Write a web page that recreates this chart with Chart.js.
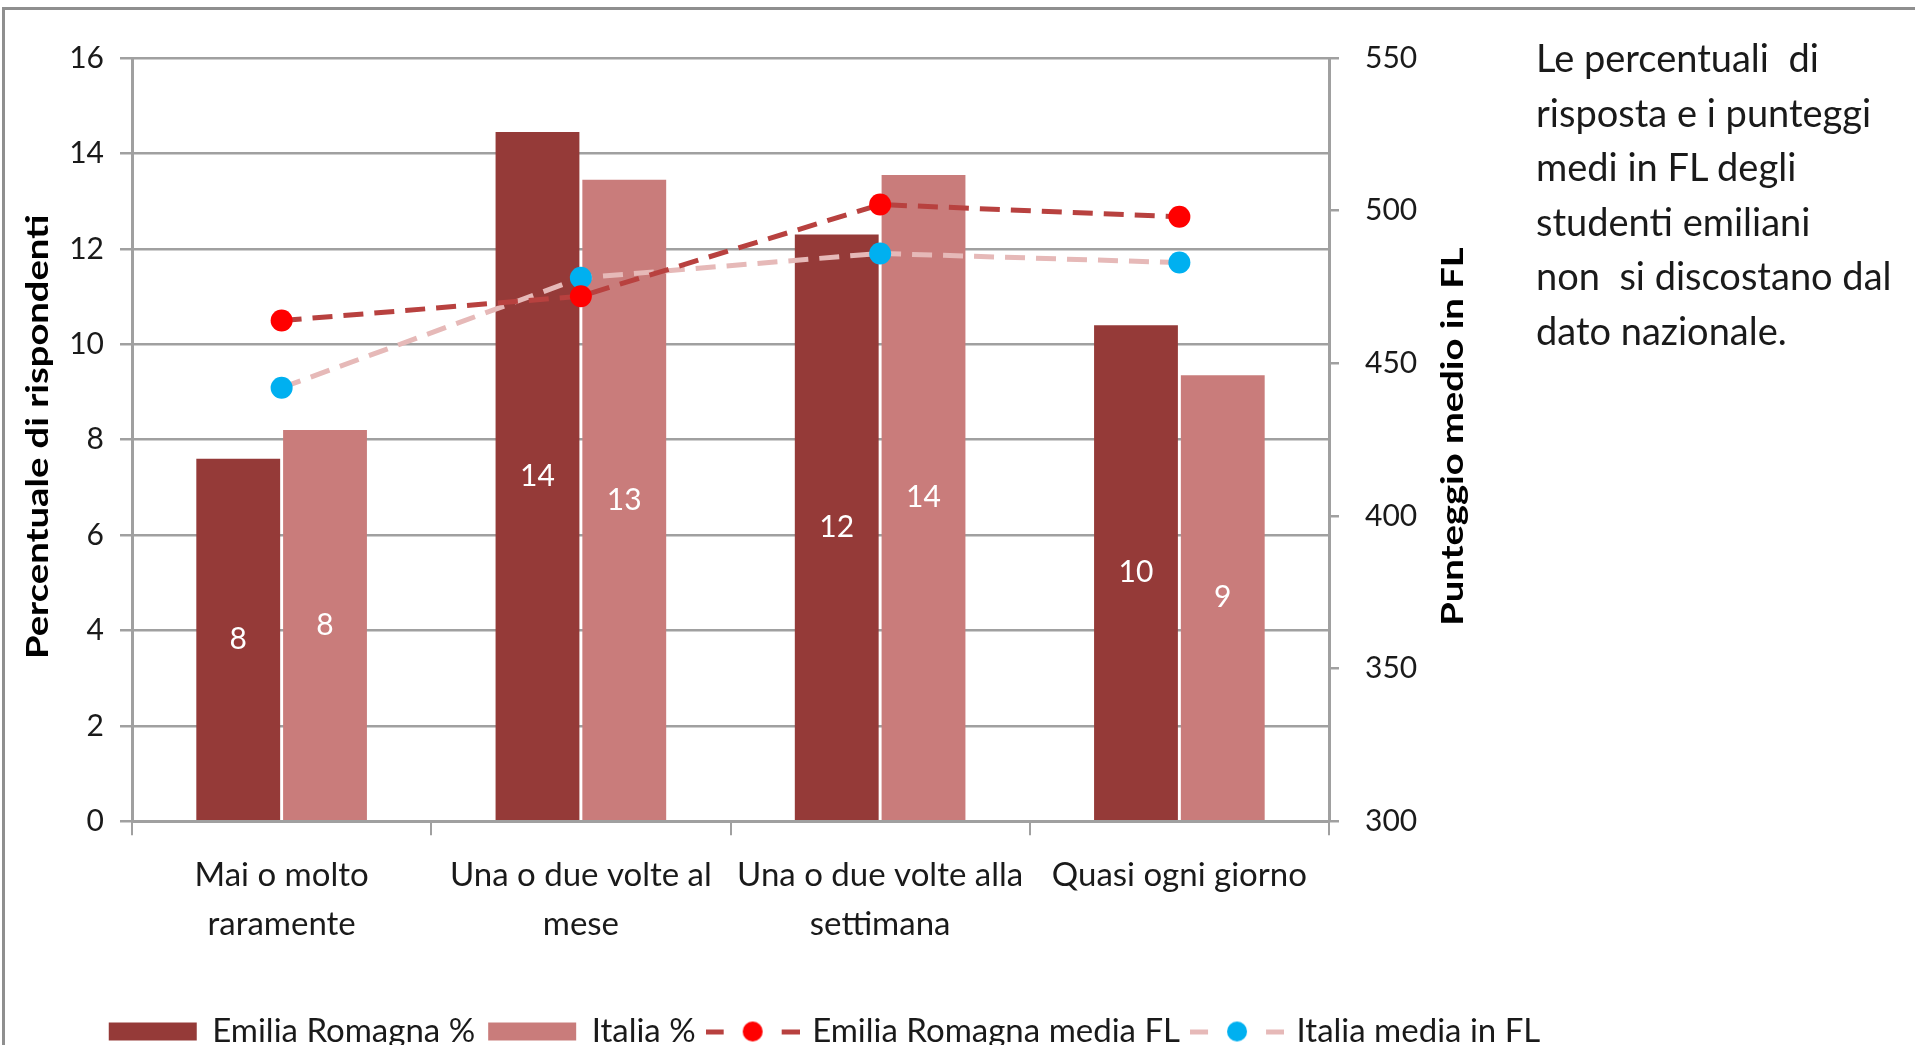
<!DOCTYPE html>
<html>
<head>
<meta charset="utf-8">
<script src="https://cdn.jsdelivr.net/npm/chart.js@4.4.0/dist/chart.umd.min.js"></script>
<style>
  html, body { margin: 0; padding: 0; background: #fff; overflow: hidden; }
  #frame { position: absolute; left: 2px; top: 7px; width: 2000px; height: 2000px;
           border-top: 3px solid #8f8f8f; border-left: 3px solid #8f8f8f; }
  #myChart { position: absolute; left: 0; top: 0; }
  #note { position: absolute; left: 1536px; top: 30px; font-family: Lato, sans-serif;
          font-size: 38px; line-height: 54.5px; color: #1a1a1a; white-space: nowrap; }
</style>
</head>
<body>
<div id="frame"></div>
<canvas id="myChart" width="1915" height="1080"></canvas>
<div id="note">Le percentuali &nbsp;di<br>risposta e i punteggi<br>medi in FL degli<br>studenti emiliani<br>non &nbsp;si discostano dal<br>dato nazionale.</div>
<script>
// data
const categories = [
  ['Mai o molto', 'raramente'],
  ['Una o due volte al', 'mese'],
  ['Una o due volte alla', 'settimana'],
  ['Quasi ogni giorno']
];
const emiliaPct = [7.6, 14.45, 12.3, 10.4];
const italiaPct = [8.2, 13.45, 13.55, 9.35];
const emiliaFL = [464, 472, 502, 498];
const italiaFL = [442, 478, 486, 483];
const pctTicks = [0, 2, 4, 6, 8, 10, 12, 14, 16];
const flTicks = [300, 350, 400, 450, 500, 550];

const gridGray = '#a0a0a0';

// legend symbols
function barSymbol(color) {
  const c = document.createElement('canvas');
  c.width = 94; c.height = 20;
  const g = c.getContext('2d');
  g.fillStyle = color;
  g.fillRect(3, 1, 88, 18);
  return c;
}
function lineSymbol(lineColor, dotColor) {
  const c = document.createElement('canvas');
  c.width = 94; c.height = 24;
  const g = c.getContext('2d');
  g.fillStyle = lineColor;
  g.fillRect(0, 10, 18, 5);
  g.fillRect(76, 10, 18, 5);
  g.fillStyle = dotColor;
  g.beginPath();
  g.arc(47, 12, 10, 0, Math.PI * 2);
  g.fill();
  return c;
}
const symbols = [
  barSymbol('#953a38'),
  barSymbol('#c97c7b'),
  lineSymbol('#b8413f', '#ff0000'),
  lineSymbol('#e6b9b8', '#00b0f0')
];

// white value labels in the middle of each bar
const barLabels = {
  id: 'barLabels',
  afterDatasetsDraw(chart) {
    const ctx = chart.ctx;
    ctx.save();
    ctx.font = '30px Lato';
    ctx.fillStyle = '#ffffff';
    ctx.textAlign = 'center';
    ctx.textBaseline = 'middle';
    chart.data.datasets.forEach((ds, i) => {
      if (ds.type !== 'bar') return;
      chart.getDatasetMeta(i).data.forEach((bar, j) => {
        ctx.fillText(Math.round(ds.data[j]), bar.x, (bar.y + bar.base) / 2);
      });
    });
    ctx.restore();
  }
};

// both axis titles read bottom to top and are a bit stretched, as in the original
function drawTitle(ctx, text, x, y) {
  ctx.save();
  ctx.translate(x, y);
  ctx.rotate(-Math.PI / 2);
  ctx.scale(1.23, 1);
  ctx.font = 'bold 31px Lato';
  ctx.fillStyle = '#000';
  ctx.textAlign = 'center';
  ctx.textBaseline = 'middle';
  ctx.fillText(text, 0, 0);
  ctx.restore();
}
const axisTitles = {
  id: 'axisTitles',
  afterDraw(chart) {
    const { y, y1 } = chart.scales;
    const mid = (y.top + y.bottom) / 2;
    drawTitle(chart.ctx, 'Percentuale di rispondenti', 38, mid - 3);
    drawTitle(chart.ctx, 'Punteggio medio in FL', y1.left + 124, mid - 3);
  }
};

Chart.defaults.font.family = 'Lato';
Chart.defaults.color = '#1a1a1a';

const ctx = document.getElementById('myChart');
new Chart(ctx, {
  type: 'bar',
  data: {
    labels: categories,
    datasets: [
      {
        type: 'bar', label: 'Emilia Romagna %', data: emiliaPct, yAxisID: 'y',
        backgroundColor: '#953a38', order: 1,
        categoryPercentage: 0.58, barPercentage: 0.966
      },
      {
        type: 'bar', label: 'Italia %', data: italiaPct, yAxisID: 'y',
        backgroundColor: '#c97c7b', order: 1,
        categoryPercentage: 0.58, barPercentage: 0.966
      },
      {
        type: 'line', label: 'Emilia Romagna media FL', data: emiliaFL, yAxisID: 'y1',
        borderColor: '#b8413f', borderWidth: 5, borderDash: [20, 11], tension: 0, fill: false,
        pointRadius: 11, pointBackgroundColor: '#ff0000', pointBorderWidth: 0, order: 0
      },
      {
        type: 'line', label: 'Italia media in FL', data: italiaFL, yAxisID: 'y1',
        borderColor: '#e6b9b8', borderWidth: 5, borderDash: [20, 11], tension: 0, fill: false,
        pointRadius: 11, pointBackgroundColor: '#00b0f0', pointBorderWidth: 0, order: 0
      }
    ]
  },
  options: {
    responsive: false,
    devicePixelRatio: 1,
    animation: false,
    layout: { padding: { top: 58, left: 14, right: 279, bottom: 22 } },
    scales: {
      x: {
        grid: { drawOnChartArea: false, tickLength: 14, color: gridGray, lineWidth: 2 },
        border: { color: gridGray, width: 3 },
        ticks: { font: { size: 33, lineHeight: 1.48 }, padding: 16, maxRotation: 0, autoSkip: false },
        afterFit(scale) { scale.height += 36; }
      },
      y: {
        position: 'left',
        min: pctTicks[0], max: pctTicks[pctTicks.length - 1], ticks: {
          stepSize: pctTicks[1] - pctTicks[0], font: { size: 30 }, padding: 16
        },
        grid: { color: gridGray, lineWidth: 2.5, tickLength: 12 },
        border: { color: gridGray, width: 3 },
        afterFit(scale) { scale.width = 118; }
      },
      y1: {
        position: 'right',
        min: flTicks[0], max: flTicks[flTicks.length - 1], ticks: {
          stepSize: flTicks[1] - flTicks[0], font: { size: 30 }, padding: 26
        },
        grid: { drawOnChartArea: false, color: gridGray, lineWidth: 2.5, tickLength: 10 },
        border: { color: gridGray, width: 3 },
        afterFit(scale) { scale.width = 307; }
      }
    },
    plugins: {
      tooltip: { enabled: false },
      legend: {
        position: 'bottom',
        labels: {
          font: { size: 33 },
          color: '#1a1a1a',
          padding: 14,
          usePointStyle: true,
          pointStyleWidth: 86,
          sort: (a, b) => a.datasetIndex - b.datasetIndex,
          generateLabels(chart) {
            const items = Chart.defaults.plugins.legend.labels.generateLabels(chart);
            items.forEach((it) => { it.pointStyle = symbols[it.datasetIndex]; });
            return items;
          }
        }
      }
    }
  },
  plugins: [barLabels, axisTitles]
});
</script>
</body>
</html>
